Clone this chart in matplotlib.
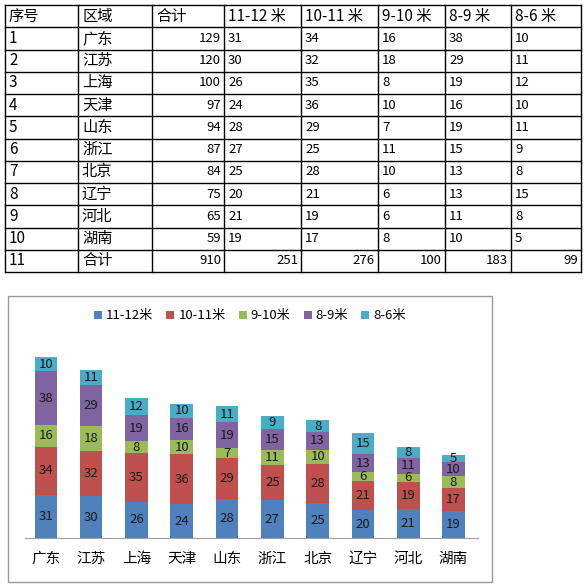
import numpy as np
import matplotlib.pyplot as plt
from matplotlib.patches import Rectangle

plt.rcParams['font.family'] = ['Noto Sans CJK SC', 'DejaVu Sans']

# данные
regions = ['广东', '江苏', '上海', '天津', '山东', '浙江', '北京', '辽宁', '河北', '湖南']
series = ['11-12米', '10-11米', '9-10米', '8-9米', '8-6米']
header = ['序号', '区域', '合计', '11-12 米', '10-11 米', '9-10 米', '8-9 米', '8-6 米']
v_11_12 = [31, 30, 26, 24, 28, 27, 25, 20, 21, 19]
v_10_11 = [34, 32, 35, 36, 29, 25, 28, 21, 19, 17]
v_9_10 = [16, 18, 8, 10, 7, 11, 10, 6, 6, 8]
v_8_9 = [38, 29, 19, 16, 19, 15, 13, 13, 11, 10]
v_8_6 = [10, 11, 12, 10, 11, 9, 8, 15, 8, 5]
totals = [129, 120, 100, 97, 94, 87, 84, 75, 65, 59]
col_totals = [910, 251, 276, 100, 183, 99]

colors = ['#4F81BD', '#C0504D', '#9BBB59', '#8064A2', '#4BACC6']

W, H = 586, 587
fig = plt.figure(figsize=(W / 100, H / 100), dpi=100)

# ---- таблица ----
tab = fig.add_axes([0, 0, 1, 1])
tab.set_xlim(0, W)
tab.set_ylim(H, 0)
tab.axis('off')

col_x = [5, 78, 152, 224, 301, 378, 445, 511, 581]
top, bottom = 5, 272
nrows = 12
row_h = (bottom - top) / nrows

for cx in col_x:
    tab.plot([cx, cx], [top, bottom], color='black', lw=1)
for r in range(nrows + 1):
    y = top + r * row_h
    tab.plot([col_x[0], col_x[-1]], [y, y], color='black', lw=1)

rows = []
for i in range(len(regions)):
    rows.append([str(i + 1), regions[i], totals[i], v_11_12[i], v_10_11[i],
                 v_9_10[i], v_8_9[i], v_8_6[i]])
rows.append([str(len(regions) + 1), '合计'] + col_totals)

def put(ci, ri, txt, right=False, size=10.5):
    yc = top + (ri + 0.5) * row_h
    if right:
        tab.text(col_x[ci + 1] - 3, yc, str(txt), ha='right', va='center',
                 fontsize=size, color='black')
    else:
        tab.text(col_x[ci] + 4, yc, str(txt), ha='left', va='center',
                 fontsize=size, color='black')

for ci, h in enumerate(header):
    put(ci, 0, h, size=11)
for ri, row in enumerate(rows):
    last = ri == len(rows) - 1
    for ci, val in enumerate(row):
        if ci == 2 or (last and ci >= 2):
            put(ci, ri + 1, val, right=True, size=9.5)
        elif ci >= 3:
            put(ci, ri + 1, val, size=9.5)
        else:
            put(ci, ri + 1, val, size=11)

# рамка графика
tab.add_patch(Rectangle((8, 296), 484, 286, fill=False, edgecolor='#9a9a9a', lw=1))

# ---- график ----
ax = fig.add_axes([25 / W, (H - 538) / H, (478 - 25) / W, 208 / H])
x = np.arange(len(regions))
data = [v_11_12, v_10_11, v_9_10, v_8_9, v_8_6]
bottoms = np.zeros(len(regions))
for vals, name, c in zip(data, series, colors):
    vals = np.array(vals)
    bars = ax.bar(x, vals, 0.5, bottom=bottoms, color=c, label=name)
    for xi, b, v in zip(x, bottoms, vals):
        ax.text(xi, b + v / 2, str(v), ha='center', va='center',
                fontsize=9.5, color='#1a1a1a')
    bottoms += vals

ax.set_xlim(-0.46, 9.54)
ax.set_ylim(0, 148.6)
ax.set_xticks(x)
ax.set_xticklabels(regions, fontsize=10.5)
ax.tick_params(axis='x', length=0, pad=10)
ax.set_yticks([])
for s in ['top', 'right', 'left']:
    ax.spines[s].set_visible(False)
ax.spines['bottom'].set_color('#a0a0a0')
ax.patch.set_alpha(0)

leg = fig.legend(loc='center', bbox_to_anchor=(250 / W, 1 - 316 / H), ncol=5,
                 frameon=False, fontsize=9.5, handlelength=0.6, handleheight=0.6,
                 handletextpad=0.3, columnspacing=1.0)

fig.savefig('out.png', dpi=100)
